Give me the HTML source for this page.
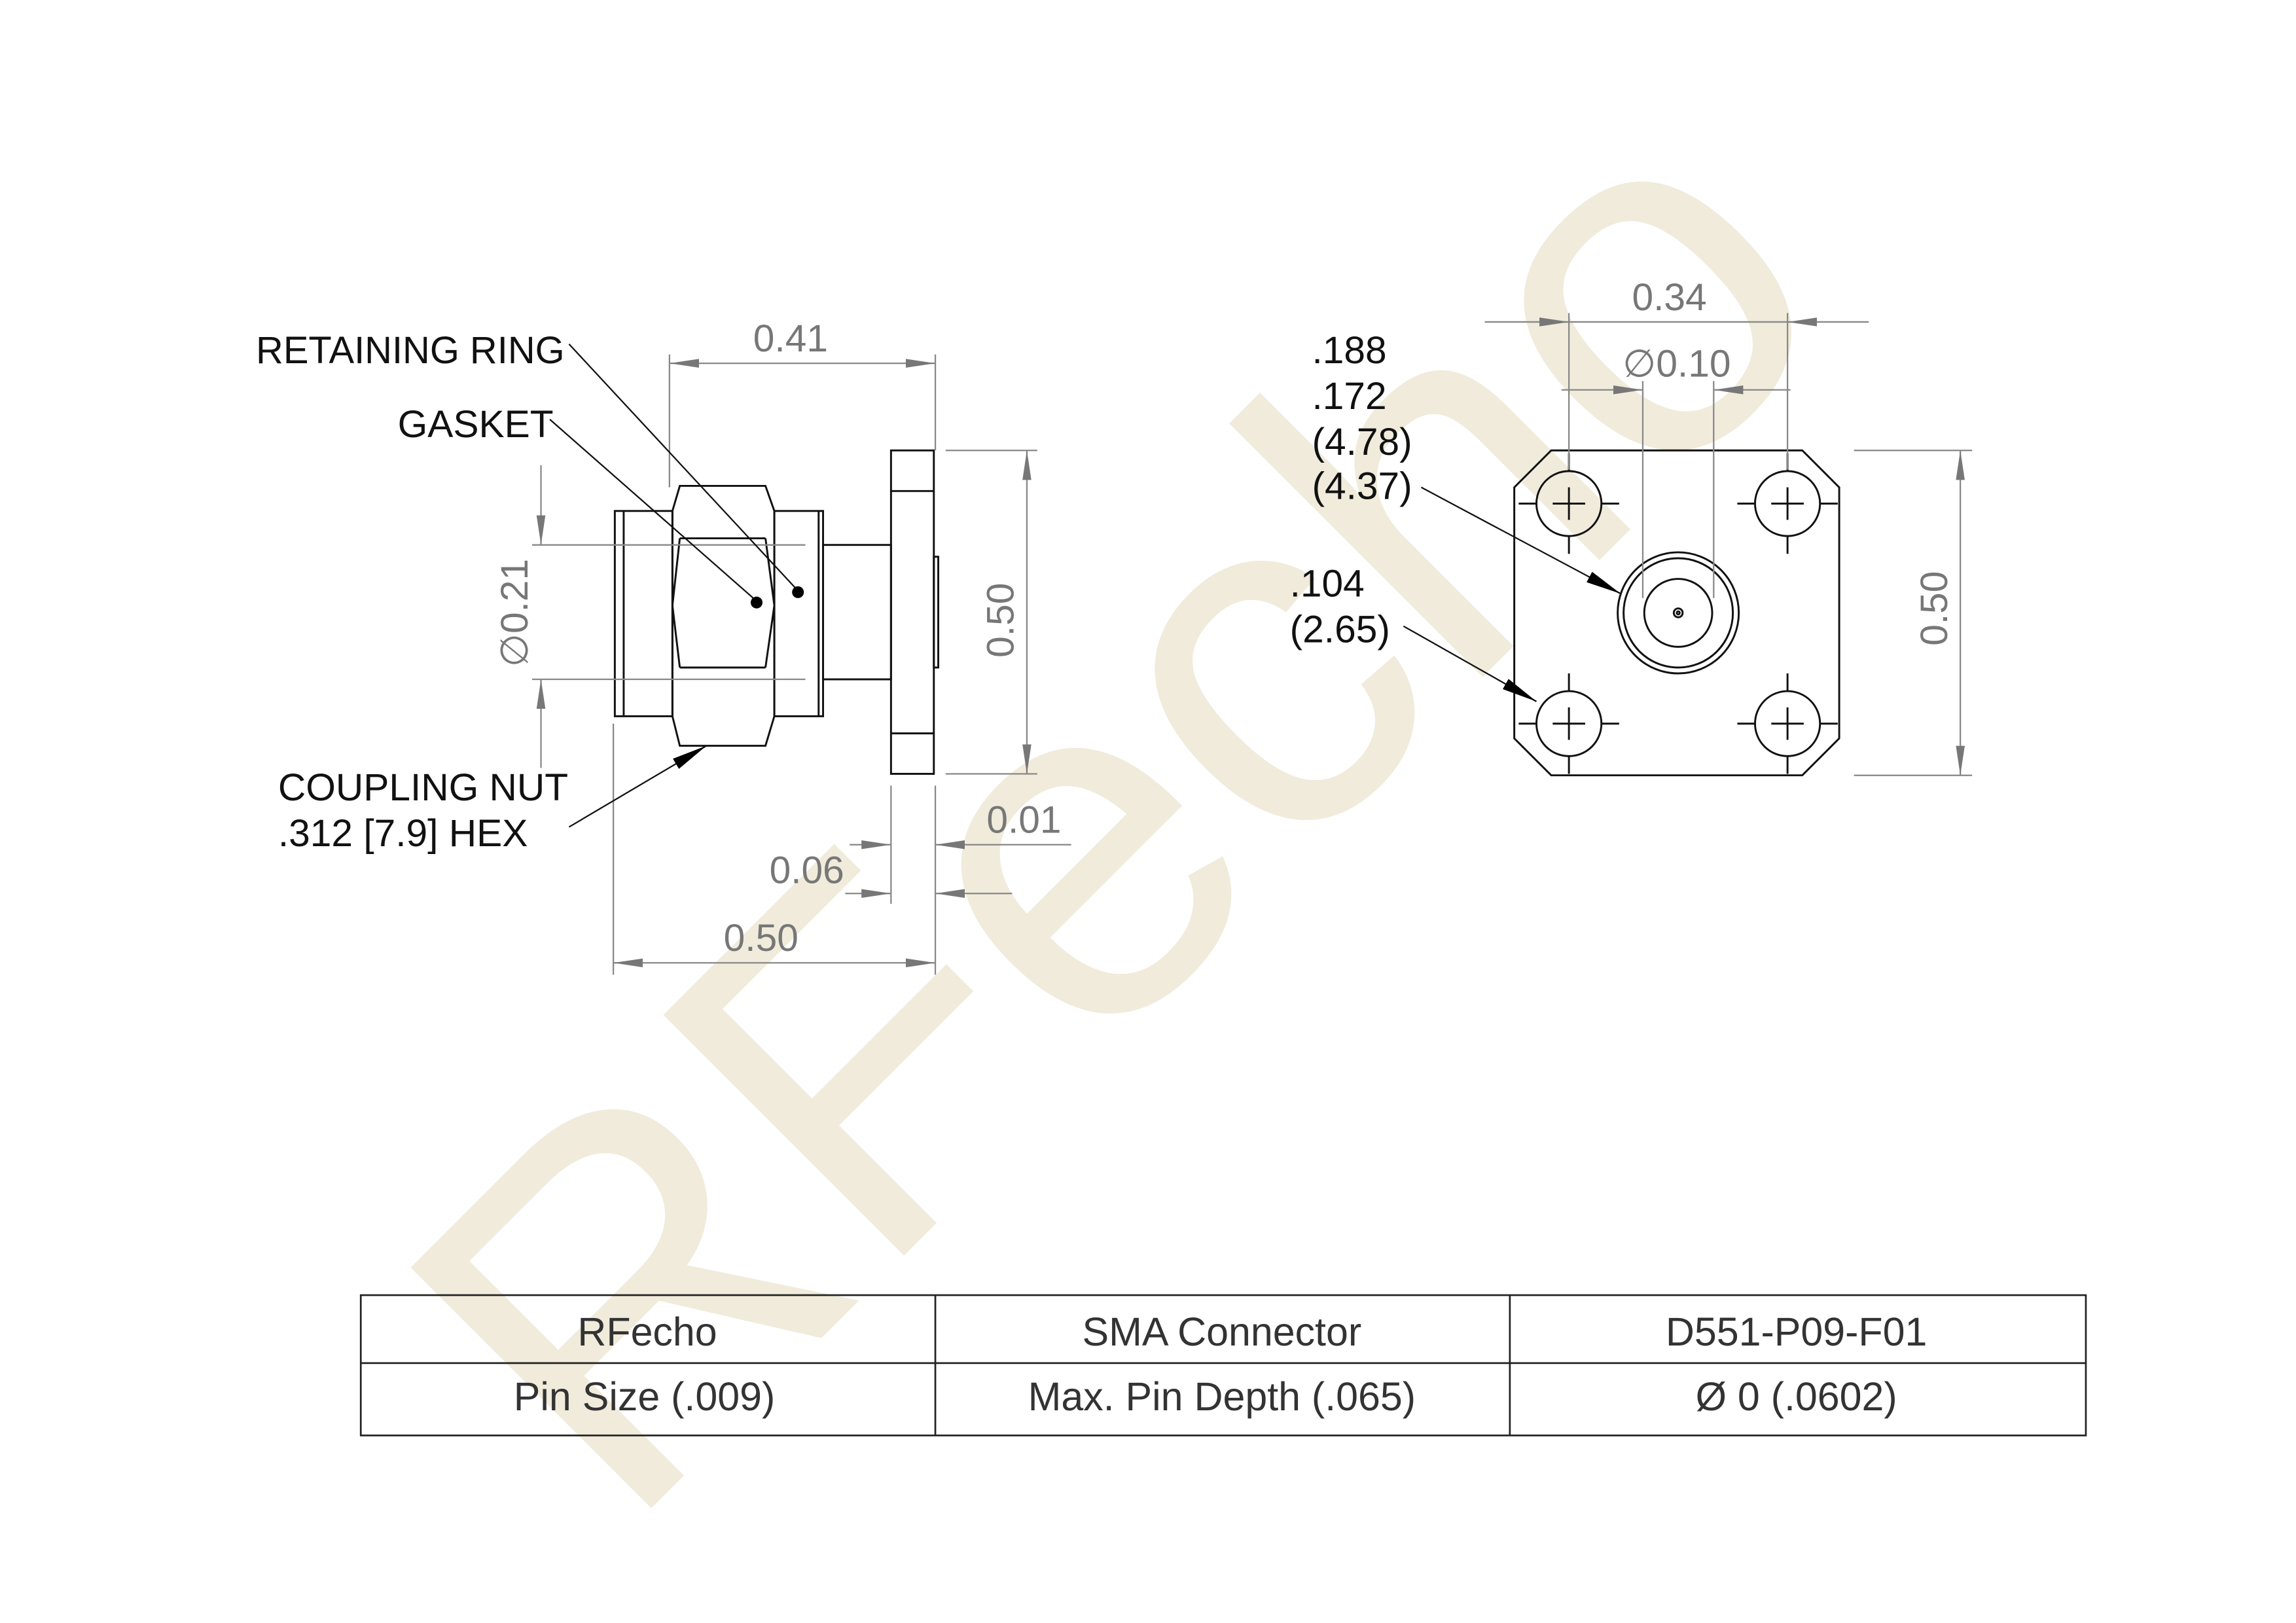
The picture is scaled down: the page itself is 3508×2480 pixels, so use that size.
<!DOCTYPE html>
<html><head><meta charset="utf-8"><style>html,body{margin:0;padding:0;background:#fff}svg{display:block}</style></head>
<body>
<svg width="3508" height="2480" viewBox="0 0 1554 1099" xmlns="http://www.w3.org/2000/svg" font-family="Liberation Sans, sans-serif">
<defs>
<marker id="ga" viewBox="0 0 20 10" refX="20" refY="5" markerWidth="20" markerHeight="10" markerUnits="userSpaceOnUse" orient="auto"><path d="M0,2 L20,5 L0,8 z" fill="#777"/></marker>
<marker id="ba" viewBox="0 0 24 10" refX="24" refY="5" markerWidth="24" markerHeight="10" markerUnits="userSpaceOnUse" orient="auto"><path d="M0,1 L24,5 L0,9 z" fill="#000"/></marker>
</defs>
<rect width="1554" height="1099" fill="#fff"/>
<text x="836" y="626" transform="rotate(-45 836 626)" text-anchor="middle" font-size="335" fill="#f0ebdb">RFecho</text>

<g fill="none" stroke="#111" stroke-width="1.3">
<rect x="416" y="346" width="39" height="139"/><line x1="422" y1="346" x2="422" y2="485"/>
<path d="M460,329 L518,329 L524,346 L524,485 L518,505 L460,505 L455,485 L455,346 Z"/>
<line x1="460" y1="364.5" x2="518" y2="364.5"/><line x1="460" y1="452" x2="518" y2="452"/>
<line x1="460" y1="364.5" x2="455" y2="410"/><line x1="460" y1="452" x2="455" y2="410"/>
<line x1="518" y1="364.5" x2="524" y2="410"/><line x1="518" y1="452" x2="524" y2="410"/>
<rect x="524" y="346" width="33" height="139"/><line x1="554" y1="346" x2="554" y2="485"/>
<rect x="557" y="369" width="46" height="91"/>
<rect x="603" y="305" width="29" height="219"/>
<line x1="603" y1="332.5" x2="632" y2="332.5"/><line x1="603" y1="496.6" x2="632" y2="496.6"/>
<rect x="632" y="377" width="3" height="75"/>
<path d="M1050,305 L1220,305 L1245,330 L1245,500 L1220,525 L1050,525 L1025,500 L1025,330 Z"/>
<g id="h">
<circle cx="1062" cy="341" r="22"/>
<path d="M1051,341 H1073 M1062,330 V352 M1040,341 H1028 M1084,341 H1096 M1062,319 V307 M1062,363 V375"/>
</g>
<use href="#h" x="148"/><use href="#h" y="149"/><use href="#h" x="148" y="149"/>
<circle cx="1136" cy="415" r="41"/><circle cx="1136" cy="415" r="37"/><circle cx="1136" cy="415" r="23"/><circle cx="1136" cy="415" r="3"/><circle cx="1136" cy="415" r="1"/>
</g>

<g stroke="#888" stroke-width="1" fill="none">
<line x1="453" y1="240" x2="453" y2="330"/><line x1="633" y1="240" x2="633" y2="305"/>
<line x1="543" y1="246" x2="453" y2="246" marker-end="url(#ga)"/><line x1="543" y1="246" x2="633" y2="246" marker-end="url(#ga)"/>
<line x1="360" y1="369" x2="545" y2="369"/><line x1="360" y1="460" x2="545" y2="460"/>
<line x1="366" y1="315" x2="366" y2="369" marker-end="url(#ga)"/><line x1="366" y1="520" x2="366" y2="460" marker-end="url(#ga)"/>
<line x1="640" y1="305" x2="702" y2="305"/><line x1="640" y1="524" x2="702" y2="524"/>
<line x1="695" y1="415" x2="695" y2="305" marker-end="url(#ga)"/><line x1="695" y1="415" x2="695" y2="524" marker-end="url(#ga)"/>
<line x1="603" y1="532" x2="603" y2="612"/><line x1="633" y1="532" x2="633" y2="660"/>
<line x1="575" y1="572" x2="603" y2="572" marker-end="url(#ga)"/><line x1="725" y1="572" x2="633" y2="572" marker-end="url(#ga)"/>
<line x1="572" y1="605" x2="603" y2="605" marker-end="url(#ga)"/><line x1="685" y1="605" x2="633" y2="605" marker-end="url(#ga)"/>
<line x1="415" y1="490" x2="415" y2="660"/>
<line x1="524" y1="652" x2="415" y2="652" marker-end="url(#ga)"/><line x1="524" y1="652" x2="633" y2="652" marker-end="url(#ga)"/>
<line x1="1062" y1="212" x2="1062" y2="318"/><line x1="1210" y1="212" x2="1210" y2="318"/>
<line x1="1005" y1="218" x2="1062" y2="218" marker-end="url(#ga)"/><line x1="1265" y1="218" x2="1210" y2="218" marker-end="url(#ga)"/>
<line x1="1062" y1="218" x2="1210" y2="218"/>
<line x1="1112" y1="258" x2="1112" y2="405"/><line x1="1160" y1="258" x2="1160" y2="405"/>
<line x1="1057" y1="264" x2="1112" y2="264" marker-end="url(#ga)"/><line x1="1212" y1="264" x2="1160" y2="264" marker-end="url(#ga)"/>
<line x1="1255" y1="305" x2="1335" y2="305"/><line x1="1255" y1="525" x2="1335" y2="525"/>
<line x1="1327" y1="415" x2="1327" y2="305" marker-end="url(#ga)"/><line x1="1327" y1="415" x2="1327" y2="525" marker-end="url(#ga)"/>
</g>

<g fill="#777" font-size="26" text-anchor="middle">
<text x="535" y="238">0.41</text>
<text x="546" y="598">0.06</text>
<text x="693" y="564">0.01</text>
<text x="515" y="644">0.50</text>
<text x="1130" y="210">0.34</text>
<text x="1135" y="255">∅0.10</text>
<text transform="translate(357 415) rotate(-90)">∅0.21</text>
<text transform="translate(686 420) rotate(-90)">0.50</text>
<text transform="translate(1318 412) rotate(-90)">0.50</text>
</g>

<g stroke="#111" stroke-width="1" fill="none">
<line x1="385" y1="233" x2="540" y2="400"/>
<line x1="372" y1="284" x2="512" y2="407"/>
<line x1="385" y1="560" x2="478" y2="505" marker-end="url(#ba)"/>
<line x1="962" y1="330" x2="1097" y2="402" marker-end="url(#ba)"/>
<line x1="950" y1="424" x2="1040" y2="475" marker-end="url(#ba)"/>
</g>
<circle cx="540" cy="401" r="4" fill="#000"/><circle cx="512" cy="408" r="4" fill="#000"/>

<g fill="#111" font-size="26">
<text x="173" y="246" textLength="209" lengthAdjust="spacingAndGlyphs">RETAINING RING</text>
<text x="269" y="296">GASKET</text>
<text x="188" y="542">COUPLING NUT</text>
<text x="188" y="573">.312 [7.9] HEX</text>
<text x="888" y="246">.188</text>
<text x="888" y="277">.172</text>
<text x="888" y="308">(4.78)</text>
<text x="888" y="338">(4.37)</text>
<text x="873" y="404">.104</text>
<text x="873" y="435">(2.65)</text>
</g>

<g stroke="#222" stroke-width="1.2" fill="none">
<rect x="244" y="877" width="1168" height="95"/>
<line x1="244" y1="923" x2="1412" y2="923"/>
<line x1="633" y1="877" x2="633" y2="972"/><line x1="1022" y1="877" x2="1022" y2="972"/>
</g>
<g fill="#333" font-size="27" text-anchor="middle">
<text x="438" y="911">RFecho</text>
<text x="827" y="911">SMA Connector</text>
<text x="1216" y="911">D551-P09-F01</text>
<text x="436" y="955">Pin Size (.009)</text>
<text x="827" y="955">Max. Pin Depth (.065)</text>
<text x="1216" y="955">Ø 0 (.0602)</text>
</g>
</svg>
</body></html>
